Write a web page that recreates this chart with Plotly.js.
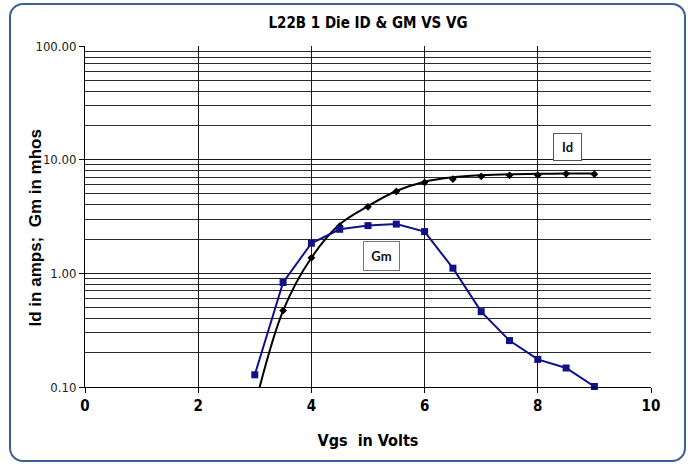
<!DOCTYPE html>
<html>
<head>
<meta charset="utf-8">
<script src="https://cdn.plot.ly/plotly-3.0.1.min.js"></script>
<style>
  html, body { margin: 0; padding: 0; background: #fff; }
  #chart { position: absolute; left: 0; top: 0; width: 693px; height: 468px; }
  #frame { position: absolute; left: 9px; top: 3px; width: 673px; height: 455px;
           border: 2px solid #3b5f96; border-radius: 14px; pointer-events: none; }
</style>
</head>
<body>
<div id="chart"></div>
<div id="frame"></div>
<script>
// Data
const vgs = [3, 3.5, 4, 4.5, 5, 5.5, 6, 6.5, 7, 7.5, 8, 8.5, 9];
const idVgs = [3.5, 4, 4.5, 5, 5.5, 6, 6.5, 7, 7.5, 8, 8.5, 9];
const idValues = [0.47, 1.37, 2.6, 3.85, 5.26, 6.3, 6.75, 7.13, 7.28, 7.3, 7.5, 7.45];
const gmValues = [0.128, 0.83, 1.84, 2.44, 2.63, 2.71, 2.33, 1.11, 0.46, 0.256, 0.175, 0.147, 0.101];
// Id trendline (smooth curve)
const idTrendX = [3.0, 3.5, 4, 4.5, 5, 5.5, 6, 6.5, 7, 7.5, 8, 8.5, 9];
const idTrendY = [0.068, 0.47, 1.37, 2.7, 3.9, 5.3, 6.4, 7.0, 7.3, 7.45, 7.5, 7.55, 7.55];
const xTicks = [0, 2, 4, 6, 8, 10];
const yTicks = [0.1, 1, 10, 100];
const yTickText = ['0.10', '1.00', '10.00', '100.00'];

const narrow = '"Liberation Sans Narrow", "Arial Narrow", "DejaVu Sans Condensed", "Liberation Sans", sans-serif';

const traces = [
  {
    x: idTrendX, y: idTrendY, type: 'scatter', mode: 'lines',
    line: { color: '#000000', width: 2, shape: 'spline', smoothing: 1.0 },
    hoverinfo: 'skip', showlegend: false
  },
  {
    x: idVgs, y: idValues, type: 'scatter', mode: 'markers', name: 'Id',
    marker: { symbol: 'diamond', size: 6, color: '#000000' },
    showlegend: false, cliponaxis: false
  },
  {
    x: vgs, y: gmValues, type: 'scatter', mode: 'lines+markers', name: 'Gm',
    line: { color: '#10108a', width: 2 },
    marker: { symbol: 'square', size: 7, color: '#10108a' },
    showlegend: false, cliponaxis: false
  }
];

const layout = {
  width: 693, height: 468,
  margin: { l: 85, r: 42, t: 46, b: 81 },
  paper_bgcolor: 'rgba(0,0,0,0)',
  plot_bgcolor: '#ffffff',
  showlegend: false,
  title: {
    text: '<b>L22B 1 Die ID &amp; GM VS VG</b>',
    font: { family: narrow, size: 15, color: '#000' },
    x: 0.5, xref: 'paper', xanchor: 'center',
    y: 25, yref: 'container', yanchor: 'middle'
  },
  xaxis: {
    range: [0, 10],
    tickmode: 'array', tickvals: xTicks, ticktext: xTicks.map(String),
    ticks: 'outside', ticklen: 5, tickcolor: '#000',
    showgrid: true, gridcolor: '#1a1a1a', gridwidth: 1,
    showline: true, linecolor: '#000', linewidth: 1,
    zeroline: false,
    tickfont: { family: narrow, size: 15, color: '#000', weight: 'bold' },
    title: {
      text: '<b>Vgs  in Volts</b>',
      font: { family: narrow, size: 16, color: '#000' },
      standoff: 20
    }
  },
  yaxis: {
    type: 'log',
    range: [-1, 2],
    tickmode: 'array', tickvals: yTicks, ticktext: yTickText,
    ticks: 'outside', ticklen: 5, tickcolor: '#000',
    showgrid: true, gridcolor: '#1a1a1a', gridwidth: 1,
    minor: { dtick: 'D1', showgrid: true, gridcolor: '#2a2a2a', gridwidth: 1, ticks: '' },
    showline: true, linecolor: '#000', linewidth: 1,
    zeroline: false,
    tickfont: { family: narrow, size: 13, color: '#222' }
  },
  annotations: [
    {
      text: '<b>Id in amps;  Gm in mhos</b>', xref: 'paper', yref: 'paper',
      x: -0.0883, y: 0.465, textangle: -90,
      xanchor: 'center', yanchor: 'middle', showarrow: false,
      font: { family: '"Liberation Sans", Arial, sans-serif', size: 17, color: '#000' }
    },
    {
      text: '<b>Id</b>', xref: 'paper', yref: 'paper', x: 0.8516, y: 0.704,
      xanchor: 'center', yanchor: 'middle', showarrow: false,
      font: { family: 'Lato, "Open Sans", sans-serif', size: 13, color: '#111' },
      bgcolor: '#ffffff', bordercolor: '#555', borderwidth: 1, borderpad: 0,
      width: 27, height: 26
    },
    {
      text: '<b>Gm</b>', xref: 'paper', yref: 'paper', x: 0.5247, y: 0.384,
      xanchor: 'center', yanchor: 'middle', showarrow: false,
      font: { family: 'Lato, "Open Sans", sans-serif', size: 13, color: '#111' },
      bgcolor: '#ffffff', bordercolor: '#777', borderwidth: 1, borderpad: 0,
      width: 35, height: 28
    }
  ]
};

Plotly.newPlot('chart', traces, layout, { displayModeBar: false, staticPlot: true });
</script>
</body>
</html>
